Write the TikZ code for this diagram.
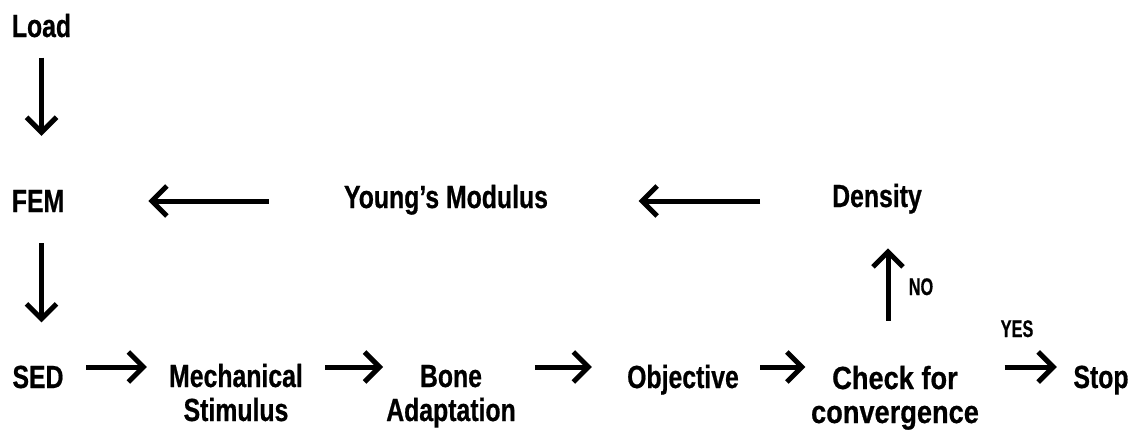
\documentclass[tikz,border=0pt]{standalone}
\usepackage{fontspec}
\newfontfamily\lab{Liberation Sans}[FakeStretch=0.775,FakeBold=0.6]
\newfontfamily\labw{Liberation Sans}[FakeStretch=0.85,FakeBold=0.6]
\newfontfamily\labs{Liberation Sans}[FakeStretch=0.68,FakeBold=0.5]
\usetikzlibrary{arrows.meta}
\begin{document}
\begin{tikzpicture}[x=1pt,y=-1pt,
  txt/.style={inner sep=0pt, anchor=base, align=center, font=\lab\bfseries\fontsize{32}{34}\selectfont},
  lbl/.style={inner sep=0pt, anchor=base, font=\labs\bfseries\fontsize{24}{24}\selectfont},
  arr/.style={line width=5pt, -{Straight Barb[length=15pt,width=30pt]}}]
\useasboundingbox (0,0) rectangle (1141,431);
\node[txt] (load) at (41.5,37) {Load};
\node[txt] (fem) at (38,212) {FEM};
\node[txt] (sed) at (38,388) {SED};
\node[txt] (mech) at (236,421) {Mechanical\\Stimulus};
\node[txt] (bone) at (451,421) {Bone\\Adaptation};
\node[txt] (obj) at (683,388) {Objective};
\node[txt, font=\labw\bfseries\fontsize{32}{34}\selectfont] (check) at (895,423) {Check for\\convergence};
\node[txt] (stop) at (1101,388) {Stop};
\node[txt] (young) at (446,208) {Young’s Modulus};
\node[txt] (dens) at (877,207) {Density};
\node[lbl] (no) at (921,295) {NO};
\node[lbl] (yes) at (1017,337) {YES};
% connectors
\draw[arr, shorten <=20pt, shorten >=54pt] (load.south) -- (load.south |- fem.north);
\draw[arr, shorten <=31pt, shorten >=43pt] (load.south |- fem.south) -- (load.south |- sed.north);
\draw[arr, shorten <=75pt, shorten >=84pt] (young.west |- 0,201) -- (fem.east |- 0,201);
\draw[arr, shorten <=72pt, shorten >=90.5pt] (dens.west |- 0,201) -- (young.east |- 0,201);
\draw[arr, shorten <=45pt, shorten >=34.5pt] ([xshift=-7pt]check.north) -- ([xshift=-7pt]check.north |- dens.south);
\draw[arr, shorten <=22.5pt, shorten >=22pt] (sed.east |- 0,367) -- (mech.west |- 0,367);
\draw[arr, shorten <=22pt, shorten >=3pt] (mech.east |- 0,367) -- (bone.west |- 0,367);
\draw[arr, shorten <=19pt, shorten >=35pt] (bone.east |- 0,367) -- (obj.west |- 0,367);
\draw[arr, shorten <=21pt, shorten >=5.5pt] (obj.east |- 0,367) -- (check.west |- 0,367);
\draw[arr, shorten <=25.5pt, shorten >=16.5pt] (check.east |- 0,367) -- (stop.west |- 0,367);
\end{tikzpicture}
\end{document}
